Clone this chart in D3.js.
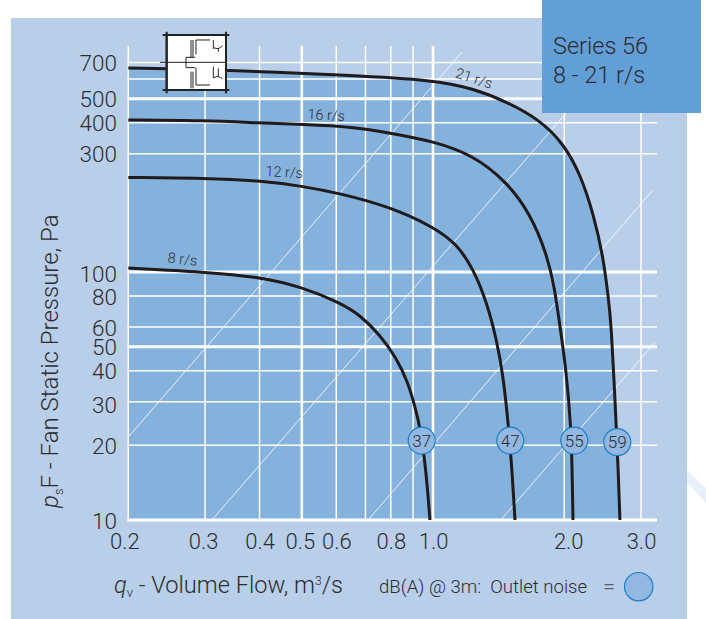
<!DOCTYPE html>
<html><head><meta charset="utf-8">
<script src="https://cdn.jsdelivr.net/npm/d3@7"></script>
<style>
html,body{margin:0;padding:0;background:#fff}
svg{display:block}
text{font-family:Roboto,"Liberation Sans",sans-serif;font-weight:300;fill:#2c2c30}
</style></head><body>
<svg id="c" width="706" height="619"></svg>
<script>
const xTicks=[0.2,0.3,0.4,0.5,0.6,0.8,1.0,2.0,3.0];
const xTickLabels=["0.2","0.3","0.4","0.5","0.6","0.8","1.0","2.0","3.0"];
const yTicks=[10,20,30,40,50,60,80,100,300,400,500,700];
const xGrid=[0.2,0.3,0.4,0.5,0.6,0.7,0.8,0.9,1.0,2.0,3.0];
const xGridBold=[0.5,1.0];
const yGrid=[10,20,30,40,50,60,80,100,300,400,500,600,700];
const yGridBold=[10,50,100,500];

const q8 =[0.2,0.3,0.4,0.5,0.612,0.68,0.756,0.825,0.878,0.909,0.934,0.964,0.984];
const p8 =[103.7,100,95.5,87,75.2,67.1,55.7,44.9,35.6,28.6,23.8,15.9,10];
const q12=[0.2,0.3,0.4,0.5,0.612,0.797,1.0,1.133,1.237,1.328,1.4,1.45,1.488,1.518,1.542];
const p12=[240.5,239,234,222,207.6,183,152.4,130,103,75.7,53.2,37.8,24.5,15.9,10];
const q16=[0.2,0.3,0.4,0.5,0.655,0.801,1.0,1.237,1.476,1.669,1.823,1.905,1.945,2.018,2.073,2.085,2.095];
const p16=[410,408,399,394,385,363,337,296,231,172.4,119,84.6,64,41.4,23.7,15.9,10];
const q21=[0.2,0.333,0.655,1.0,1.237,1.476,1.76,1.99,2.174,2.332,2.458,2.523,2.561,2.629,2.66,2.684];
const p21=[665,653,620,594,550,486,410,330,250,172.4,115,79.4,64,25.3,15.9,10];
const speedLabels=["8 r/s","12 r/s","16 r/s","21 r/s"];
const speedLabelQ=[0.2656,0.455,0.568,1.232];
const speedLabelP=[107.6,241.5,410,578];
const speedLabelAngle=[6,3,3,18];

const sysQ=[[0.2,1.166],[0.311,2.02],[0.71,3.18],[1.43,3.23]];
const sysP=[[21.6,771],[10,437],[10,212],[10,52]];

const noiseDb=[37,47,55,59];
const noiseQ=[0.942,1.504,2.109,2.647];
const noiseP=[20.9,20.9,20.9,20.6];

const x=d3.scaleLog().domain([0.2,1]).range([128.3,433]);
const y=d3.scaleLog().domain([10,100]).range([520,272]);
const xEnd=657, yTop=46;
const svg=d3.select("#c");
const zip=(a,b)=>a.map((v,i)=>[v,b[i]]);

// background
svg.append("path").attr("d","M687,471L706,488L706,503L687,482Z").attr("fill","#e9f0f9");
svg.append("rect").attr("x",11).attr("y",18).attr("width",676).attr("height",601).attr("fill","#b9cfe9");

// area below the top curve
svg.append("path").datum(zip(q21,p21))
 .attr("fill","#85b2dd")
 .attr("d",d3.area().x(d=>x(d[0])).y0(y(10)).y1(d=>y(d[1])).curve(d3.curveBasis));

// grid
svg.append("g").selectAll("line").data(yGrid).join("line")
 .attr("x1",x(0.2)-1).attr("x2",xEnd).attr("y1",d=>y(d)).attr("y2",d=>y(d))
 .attr("stroke","#fff").attr("stroke-width",d=>yGridBold.includes(d)?3:1.5);
svg.append("g").selectAll("line").data(xGrid).join("line")
 .attr("y1",yTop).attr("y2",y(10)).attr("x1",d=>x(d)).attr("x2",d=>x(d))
 .attr("stroke","#fff").attr("stroke-width",d=>xGridBold.includes(d)?2.6:1.5);

// system lines
svg.append("g").selectAll("line").data(sysQ).join("line")
 .attr("x1",d=>x(d[0])).attr("x2",d=>x(d[1]))
 .attr("y1",(d,i)=>y(sysP[i][0])).attr("y2",(d,i)=>y(sysP[i][1]))
 .attr("stroke","#fff").attr("stroke-width",0.9).attr("stroke-opacity",0.9);

// fan curves
const line=d3.line().x(d=>x(d[0])).y(d=>y(d[1])).curve(d3.curveBasis);
svg.append("g").selectAll("path").data([zip(q8,p8),zip(q12,p12),zip(q16,p16),zip(q21,p21)]).join("path")
 .attr("d",line).attr("fill","none").attr("stroke","#1f1a1c").attr("stroke-width",3);

speedLabels.forEach((t,i)=>{
 svg.append("text").text(t).attr("text-anchor","middle").attr("font-size",14.5)
  .attr("transform",`translate(${x(speedLabelQ[i])},${y(speedLabelP[i])}) rotate(${speedLabelAngle[i]})`);
});

// axes
const ax=svg.append("g").attr("transform",`translate(0,${y(10)+29})`)
 .call(d3.axisBottom(x).tickValues(xTicks).tickFormat((d,i)=>xTickLabels[i]).tickSize(0).tickPadding(0));
ax.select(".domain").remove();
ax.selectAll("text").attr("font-size",22).attr("dy",0).attr("y",0)
 .attr("dx",d=>d===2?4:d===0.2?-4:d===0.5?-2:d===0.3?-2:0)
 .style("font-family","Roboto,sans-serif").style("font-weight",300).style("fill","#2c2c30");
const ay=svg.append("g").attr("transform","translate(117,0)")
 .call(d3.axisLeft(y).tickValues(yTicks).tickFormat(d=>String(d)).tickSize(0).tickPadding(0));
ay.select(".domain").remove();
ay.selectAll("text").attr("font-size",22.5).attr("x",0)
 .attr("dy",d=>d===30?"0.48em":d===100?"0.42em":"0.36em")
 .style("font-family","Roboto,sans-serif").style("font-weight",300).style("fill","#2c2c30");

// titles
const yT=svg.append("text").attr("transform","translate(58,508) rotate(-90)").attr("font-size",24);
yT.append("tspan").text("p").attr("font-style","italic");
yT.append("tspan").text("s").attr("font-size",13).attr("dy",5);
yT.append("tspan").text("F - Fan Static Pressure, Pa").attr("dy",-5);

const xT=svg.append("text").attr("x",114).attr("y",593).attr("font-size",23.6);
xT.append("tspan").text("q").attr("font-style","italic");
xT.append("tspan").text("v").attr("font-size",13).attr("dy",4);
xT.append("tspan").text(" - Volume Flow, m").attr("dy",-4);
xT.append("tspan").text("3").attr("font-size",12).attr("dy",-8);
xT.append("tspan").text("/s").attr("dy",8);

svg.append("text").text("dB(A) @ 3m:  Outlet noise").attr("x",379).attr("y",592.5)
 .attr("font-size",18.6).style("white-space","pre");
svg.append("text").text("=").attr("x",603).attr("y",594).attr("font-size",22).style("fill","#5a6068");
svg.append("circle").attr("cx",638.7).attr("cy",586.7).attr("r",14.2)
 .attr("fill","#92b7e0").attr("stroke","#1b7fc4").attr("stroke-width",1.2);

// fan diagram
const ic=svg.append("g").attr("transform","translate(150,25) scale(0.3333)").attr("fill","none").attr("stroke","#222");
ic.append("rect").attr("x",50).attr("y",30).attr("width",178).attr("height",165).attr("fill","#fff").attr("stroke-width",6);
ic.append("path").attr("stroke-width",6).attr("d","M38,30H238M38,195H238M50,20V205M228,20V205");
ic.append("path").attr("stroke-width",3).attr("d","M30,112H228");
ic.append("path").attr("stroke-width",3).attr("d",
 "M123,45V96M129,45V96M108,97H135M108,97V128H135M138,45H180M138,45V88"+
 "M123,140V190M129,140V190M138,128V180H180"+
 "M190,45V72M190,125V160M192,68Q205,76 218,62M192,158Q205,150 218,162M205,70V80M205,130V155");

// series box
svg.append("rect").attr("x",542).attr("y",0).attr("width",159).attr("height",113).attr("fill","#629fd6");
svg.append("text").text("Series 56").attr("x",553).attr("y",54).attr("font-size",23.5);
svg.append("text").text("8 - 21 r/s").attr("x",553).attr("y",83).attr("font-size",23.5);

// noise markers
const n=svg.append("g").selectAll("g").data(noiseDb).join("g")
 .attr("transform",(d,i)=>`translate(${x(noiseQ[i])},${y(noiseP[i])})`);
n.append("circle").attr("r",13.5).attr("fill","#92b7e0").attr("stroke","#1b7fc4").attr("stroke-width",1.2);
n.append("text").text(d=>d).attr("text-anchor","middle").attr("dy","0.36em").attr("font-size",17);
</script>
</body></html>
